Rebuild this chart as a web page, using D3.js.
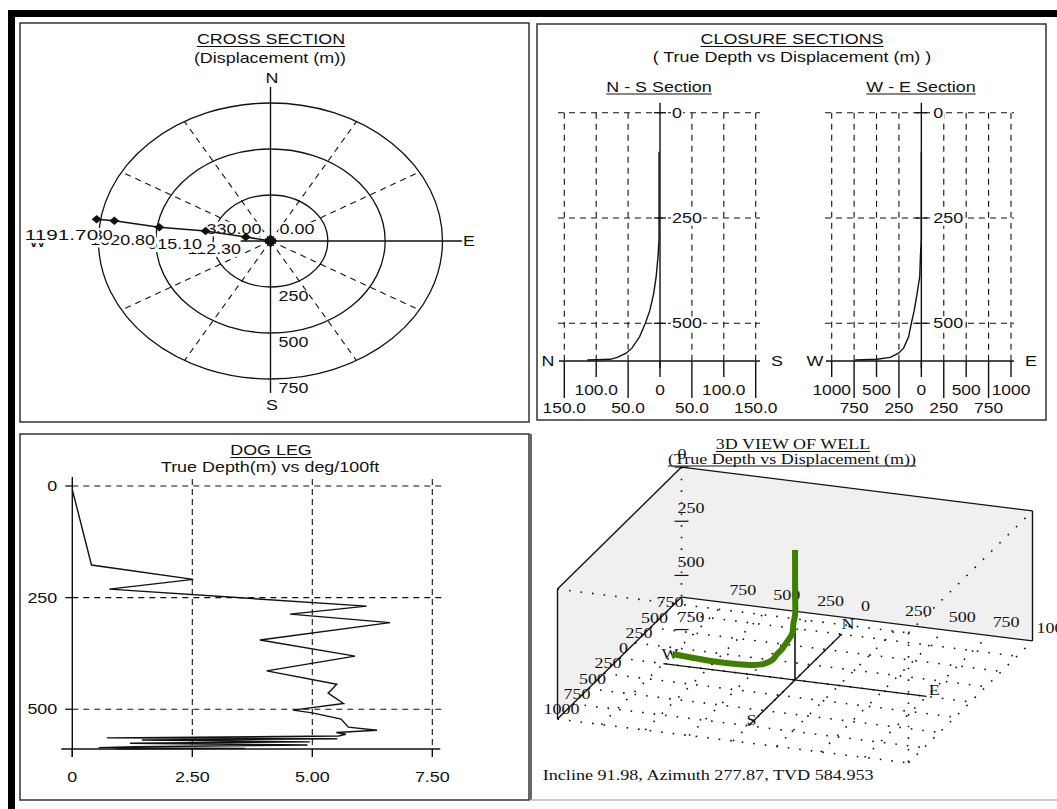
<!DOCTYPE html>
<html><head><meta charset="utf-8">
<script src="https://cdn.jsdelivr.net/npm/d3@7"></script>
<style>html,body{margin:0;padding:0;background:#fff;overflow:hidden}</style>
</head><body>
<svg id="c" width="1057" height="809"></svg>
<script>
// ================= DATA =================
// Cross section (plan view) stations: east / north displacement (m)
const crossEast  = [-758, -681, -485, -283, -108, 0];
const crossNorth = [118, 110, 74.5, 54, 22, 0];
const crossRings = [250, 500, 750];
const crossSpokes = [30, 60, 120, 150, 210, 240, 300, 330];
const crossLabelText    = ["0.00", "112.30", "330.00", "615.10", "1020.80", "1150.30", "1191.70"];
const crossLabelStation = [5, 3, 3, 2, 1, 0, 0];

// Survey trajectory (true vertical depth, north, east in m)
const surveyTvd   = [93, 200, 300, 340, 389, 430, 470, 500, 532, 559, 571, 581, 585.5, 586.5, 587];
const surveyNorth = [1.5, 1.5, 1.5, 3, 6, 10, 16, 23, 32, 44, 53, 67, 78, 100, 114];
const surveyEast  = [0, 0, 0, -10, -18, -48, -80, -112, -142, -198, -254, -347, -496, -650, -739];

// Closure section ticks
const sectionDepthTicks = [0, 250, 500];
const nsTicks = [150, 100, 50, 0, -50, -100, -150];
const nsTickLabels = ["150.0", "100.0", "50.0", "0", "50.0", "100.0", "150.0"];
const weTicks = [-1000, -750, -500, -250, 0, 250, 500, 750, 1000];
const weTickLabels = ["1000", "750", "500", "250", "0", "250", "500", "750", "1000"];

// Dog leg (deg/100ft vs true depth)
const dogDepth = [8, 177, 209, 231, 269, 287, 306, 345, 381, 414, 444, 464, 487, 502, 508, 522, 540, 547, 552, 556, 560, 564, 566, 569, 573, 576, 580, 584, 586, 587.5, 588.5, 589];
const dogValue = [0, 0.40, 2.52, 0.77, 6.13, 4.54, 6.62, 3.91, 5.89, 4.05, 5.51, 5.33, 5.65, 4.6, 5.0, 5.6, 5.75, 6.35, 5.5, 5.7, 5.55, 0.72, 5.52, 1.45, 4.95, 1.2, 4.9, 1.3, 0.55, 3.6, 0.9, 1.5];
const dogXTicks = [0, 2.5, 5, 7.5];
const dogXTickLabels = ["0", "2.50", "5.00", "7.50"];
const dogYTicks = [0, 250, 500];

// 3D view ticks
const depthTicks3d = [0, 250, 500, 750];
const eastTicks3d  = [-750, -500, -250, 0, 250, 500, 750, 1000];
const northTicks3d = [-1000, -750, -500, -250, 0, 250, 500, 750];
const floorGrid3d  = [-750, -500, -250, 0, 250, 500, 750];
const footerText = "Incline 91.98, Azimuth 277.87, TVD 584.953";

// ================= HELPERS =================
const W = 1057, H = 809;
const svg = d3.select('#c');
const INK = '#111';

function T(g, x, y, s, o = {}) {
  const serif = !!o.serif;
  const sx = o.sx ?? (serif ? 1.2 : 1.28);
  const size = o.size ?? (serif ? 15 : 14);
  const anchor = o.anchor || 'start';
  const t = g.append('text')
    .attr('transform', `translate(${x},${y}) scale(${sx},1)`)
    .attr('font-family', serif ? "'Liberation Serif','Times New Roman',serif" : "'Liberation Sans',Arial,Helvetica,sans-serif")
    .attr('font-size', size)
    .attr('fill', o.fill || INK)
    .attr('text-anchor', anchor)
    .text(s);
  const w = t.node().getComputedTextLength() * sx;
  const x0 = anchor === 'middle' ? x - w / 2 : anchor === 'end' ? x - w : x;
  if (o.bg) g.insert('rect', () => t.node()).attr('x', x0 - 1).attr('y', y - size * 0.85)
    .attr('width', w + 2).attr('height', size * 1.05).attr('fill', '#fff');
  if (o.underline) g.append('line').attr('x1', x0).attr('x2', x0 + w)
    .attr('y1', y + 2.5).attr('y2', y + 2.5).attr('stroke', o.fill || INK).attr('stroke-width', 1);
  return t;
}
function L(g, x1, y1, x2, y2, o = {}) {
  return g.append('line').attr('x1', x1).attr('y1', y1).attr('x2', x2).attr('y2', y2)
    .attr('stroke', o.stroke || INK).attr('stroke-width', o.w ?? 1.2)
    .attr('stroke-dasharray', o.dash || null);
}

// ================= FRAME =================
svg.append('rect').attr('width', W).attr('height', H).attr('fill', '#fff');
svg.append('rect').attr('x', 8).attr('y', 10).attr('width', W - 8).attr('height', 7).attr('fill', '#000');
svg.append('rect').attr('x', 8).attr('y', 10).attr('width', 7).attr('height', H - 10).attr('fill', '#000');
[[20, 23, 509, 399], [537, 24, 509, 396], [20, 434, 509, 366]].forEach(([x, y, w, h]) =>
  svg.append('rect').attr('x', x).attr('y', y).attr('width', w).attr('height', h)
    .attr('fill', 'none').attr('stroke', '#333').attr('stroke-width', 1.5));
L(svg, 531, 434, 531, 800, { stroke: '#333', w: 1.5 });
L(svg, 531, 800, W, 800, { stroke: '#bbb', w: 1.5 });

// ================= CROSS SECTION =================
{
  const g = svg.append('g');
  const cx = 270.5, cy = 241;
  const x = d3.scaleLinear().domain([-750, 750]).range([cx - 172, cx + 172]);
  const y = d3.scaleLinear().domain([-750, 750]).range([cy + 138, cy - 138]);
  T(g, 271, 44, "CROSS SECTION", { anchor: 'middle', underline: true });
  T(g, 270, 63, "(Displacement (m))", { anchor: 'middle' });

  crossSpokes.forEach(a => {
    const r = d3.max(crossRings), t = a * Math.PI / 180;
    L(g, x(0), y(0), x(r * Math.cos(t)), y(r * Math.sin(t)), { dash: '6,5', w: 1.1 });
  });
  crossRings.forEach(r => {
    g.append('ellipse').attr('cx', x(0)).attr('cy', y(0)).attr('rx', x(r) - x(0)).attr('ry', y(0) - y(r))
      .attr('fill', 'none').attr('stroke', INK).attr('stroke-width', 1.3);
    T(g, x(0) + 8, y(-r) + 14, String(r));
  });
  L(g, x(0), y(837), x(0), y(-826), { w: 1.4 });
  L(g, x(-130), y(0), x(835), y(0), { w: 1.4 });
  T(g, x(0) + 1.5, y(837) - 4, "N", { anchor: 'middle' });
  T(g, x(0) + 1.5, y(-826) + 17, "S", { anchor: 'middle' });
  T(g, x(835) + 1, y(0) + 5, "E");
  T(g, 29, 247, "W");

  const offs = [[9, -7, 'start', 1.28], [-18, 23, 'start', 1.28], [1, 2.5, 'start', 1.28], [-12, 22, 'start', 1.28],
                [-24, 24, 'start', 1.28], [16, 20.5, 'end', 1.28], [1.5, 21, 'end', 1.48]];
  crossLabelText.forEach((s, i) => {
    const k = crossLabelStation[i];
    T(g, x(crossEast[k]) + offs[i][0], y(crossNorth[k]) + offs[i][1], s, { anchor: offs[i][2], bg: true, sx: offs[i][3] });
  });

  g.append('path').attr('d', d3.line()(crossEast.map((e, i) => [x(e), y(crossNorth[i])])))
    .attr('fill', 'none').attr('stroke', INK).attr('stroke-width', 1.6);
  crossEast.forEach((e, i) => {
    const big = i === crossEast.length - 1;
    const a = big ? 7 : 5, b = big ? 6.5 : 4.2;
    g.append('path').attr('transform', `translate(${x(e)},${y(crossNorth[i])})`)
      .attr('d', `M0,${-b}L${a},0L0,${b}L${-a},0Z`).attr('fill', INK);
  });
}

// ================= CLOSURE SECTIONS =================
{
  const g = svg.append('g');
  T(g, 792, 44, "CLOSURE SECTIONS", { anchor: 'middle', underline: true });
  T(g, 792, 61.5, "( True Depth vs Displacement (m) )", { anchor: 'middle' });
  const yS = d3.scaleLinear().domain([0, 589.5]).range([112.7, 361]);
  const maxD = 589.5;
  const idx = d3.range(surveyTvd.length);

  function section(xs, ticks, labels, longTicks, leftLab, rightLab, title, titleX, vals, gxL, gxR) {
    T(g, titleX, 91.5, title, { anchor: 'middle', underline: true });
    const ax = xs(0);
    ticks.forEach(t => { if (t !== 0) L(g, xs(t), yS(0), xs(t), yS(maxD), { dash: '6,5', w: 1.1 }); });
    sectionDepthTicks.forEach(d => L(g, gxL, yS(d), gxR, yS(d), { dash: '6,5', w: 1.1 }));
    L(g, ax, yS(0) - 10, ax, yS(maxD) + 7, { w: 1.4 });
    L(g, gxL + 1, yS(maxD), gxR, yS(maxD), { w: 1.5 });
    sectionDepthTicks.forEach(d => {
      L(g, ax - 6, yS(d), ax + 6, yS(d), { w: 1.3 });
      T(g, ax + 12, yS(d) + 5, String(d), { bg: true });
    });
    ticks.forEach((t, i) => {
      const lg = longTicks.includes(Math.abs(t));
      L(g, xs(t), yS(maxD), xs(t), yS(maxD) + (lg ? 37 : 16), { w: 1.4 });
      T(g, xs(t), yS(maxD) + (lg ? 52 : 34), labels[i], { anchor: 'middle', sx: 1.24 });
    });
    T(g, gxL - 10, yS(maxD) + 5, leftLab, { anchor: 'middle' });
    T(g, gxR + 17, yS(maxD) + 5, rightLab, { anchor: 'middle' });
    g.append('path').attr('d', d3.line().x(i => xs(vals[i])).y(i => yS(surveyTvd[i]))(idx))
      .attr('fill', 'none').attr('stroke', INK).attr('stroke-width', 1.4);
  }
  const nsX = d3.scaleLinear().domain([150, -150]).range([564.3, 755.7]);
  section(nsX, nsTicks, nsTickLabels, [150, 50], "N", "S", "N - S Section", 659, surveyNorth, 558, 760);
  const weX = d3.scaleLinear().domain([-1000, 1000]).range([831.7, 1011]);
  section(weX, weTicks, weTickLabels, [750, 250], "W", "E", "W - E Section", 921, surveyEast, 825, 1014);
}

// ================= DOG LEG =================
{
  const g = svg.append('g');
  T(g, 271, 455, "DOG LEG", { anchor: 'middle', underline: true });
  T(g, 270, 471.5, "True Depth(m) vs deg/100ft", { anchor: 'middle' });
  const x = d3.scaleLinear().domain([0, 7.5]).range([72.3, 432.3]);
  const y = d3.scaleLinear().domain([0, 589]).range([486, 749]);
  dogXTicks.forEach(t => { if (t > 0) L(g, x(t), y(0) - 7, x(t), y(589), { dash: '6,4', w: 1.1 }); });
  dogYTicks.forEach(d => L(g, x(0), y(d), x(7.5) + 10, y(d), { dash: '6,5', w: 1.1 }));
  L(g, x(0), y(0) - 9, x(0), y(589) + 8, { w: 1.4 });
  L(g, x(0) - 11, y(589), x(7.5) + 8, y(589), { w: 1.4 });
  dogYTicks.forEach(d => {
    L(g, x(0) - 7, y(d), x(0), y(d), { w: 1.3 });
    T(g, x(0) - 15, y(d) + 5, String(d), { anchor: 'end' });
  });
  dogXTicks.forEach((t, i) => {
    L(g, x(t), y(589), x(t), y(589) + 8, { w: 1.4 });
    T(g, x(t), 782, dogXTickLabels[i], { anchor: 'middle' });
  });
  g.append('path').attr('d', d3.line().x(i => x(dogValue[i])).y(i => y(dogDepth[i]))(d3.range(dogDepth.length)))
    .attr('fill', 'none').attr('stroke', INK).attr('stroke-width', 1.4);
}

// ================= 3D VIEW =================
{
  const g = svg.append('g');
  const eX = d3.scaleLinear().domain([0, 1000]).range([0, 175.5]);
  const eY = d3.scaleLinear().domain([0, 1000]).range([0, 21.9]);
  const nX = d3.scaleLinear().domain([0, 1000]).range([0, 62]);
  const nY = d3.scaleLinear().domain([0, 1000]).range([0, -61]);
  const dY = d3.scaleLinear().domain([0, 600]).range([0, 130]);
  const P = (E, N, D) => [795 + eX(E) + nX(N), 550 + eY(E) + nY(N) + dY(D)];
  const E0 = -1000, E1 = 1000, N0 = -1000, N1 = 1000, D0 = 0, D1 = 600;
  const FTL = P(E0, N0, D0), BTL = P(E0, N1, D0), BTR = P(E1, N1, D0), FTR = P(E1, N0, D0);
  const FBL = P(E0, N0, D1), BBL = P(E0, N1, D1), BBR = P(E1, N1, D1), FBR = P(E1, N0, D1);

  T(g, 793, 449, "3D VIEW OF WELL", { anchor: 'middle', serif: true, underline: true });
  T(g, 792, 463.5, "(True Depth vs Displacement (m))", { anchor: 'middle', serif: true, underline: true });

  const poly = pts => g.append('path').attr('d', 'M' + pts.map(p => p.join(',')).join('L') + 'Z')
    .attr('fill', '#f0f0f0').attr('stroke', 'none');
  poly([FTL, BTL, BBL, FBL]);
  poly([BTL, BTR, BBR, BBL]);

  const dot = { dash: '1.6,10', w: 1.6 };
  [[BTL, BBL], [FTL, FTR], [FTR, BTR], [FTR, FBR], [FBL, FBR], [FBR, BBR]].forEach(([a, b]) => L(g, a[0], a[1], b[0], b[1], dot));
  floorGrid3d.forEach(v => {
    let a = P(v, N0, D1), b = P(v, N1, D1); L(g, a[0], a[1], b[0], b[1], dot);
    a = P(E0, v, D1); b = P(E1, v, D1); L(g, a[0], a[1], b[0], b[1], dot);
  });
  [[FTL, BTL], [BTL, BTR], [BTR, BBR], [BBR, BBL], [BBL, FBL], [FBL, FTL]].forEach(([a, b]) => L(g, a[0], a[1], b[0], b[1], { w: 1.4 }));

  // floor axes
  let a = P(-750, 0, D1), b = P(750, 0, D1);
  L(g, a[0], a[1], b[0], b[1], { w: 1.3 });
  T(g, a[0] - 2, a[1] - 5, "W", { serif: true });
  T(g, b[0] + 2, b[1] - 1, "E", { serif: true });
  a = P(0, -750, D1); b = P(0, 750, D1);
  L(g, a[0], a[1], b[0], b[1], { w: 1.3 });
  T(g, a[0] - 2, a[1] - 1, "S", { serif: true });
  T(g, b[0], b[1] - 5, "N", { serif: true });

  depthTicks3d.forEach(d => {
    const p = P(E0, N1, d);
    L(g, p[0] - 7, p[1], p[0] + 7, p[1], { w: 1.2 });
    T(g, p[0] - 4, p[1] - 8, String(d), { serif: true });
  });
  eastTicks3d.forEach(e => {
    const p = P(e, N1, D1);
    T(g, p[0] + 4, p[1] - 8, String(Math.abs(e)), { serif: true });
  });
  northTicks3d.forEach(n => {
    const p = P(E0, n, D1);
    T(g, p[0] + 4, p[1] - 5, String(Math.abs(n)), { serif: true, anchor: 'middle' });
  });

  a = P(0, 0, D0); b = P(0, 0, D1);
  L(g, a[0], a[1], b[0], b[1], { w: 1.6 });
  const well = [P(0, 0, 0)].concat(surveyTvd.map((d, i) => P(surveyEast[i], surveyNorth[i], d)));
  g.append('path').attr('d', d3.line().curve(d3.curveCatmullRom.alpha(0.5))(well))
    .attr('fill', 'none').attr('stroke', '#3f7f00').attr('stroke-width', 6)
    .attr('stroke-linejoin', 'round');

  T(g, 542.7, 780, footerText, { serif: true, sx: 1.21 });
}
</script>
</body></html>
